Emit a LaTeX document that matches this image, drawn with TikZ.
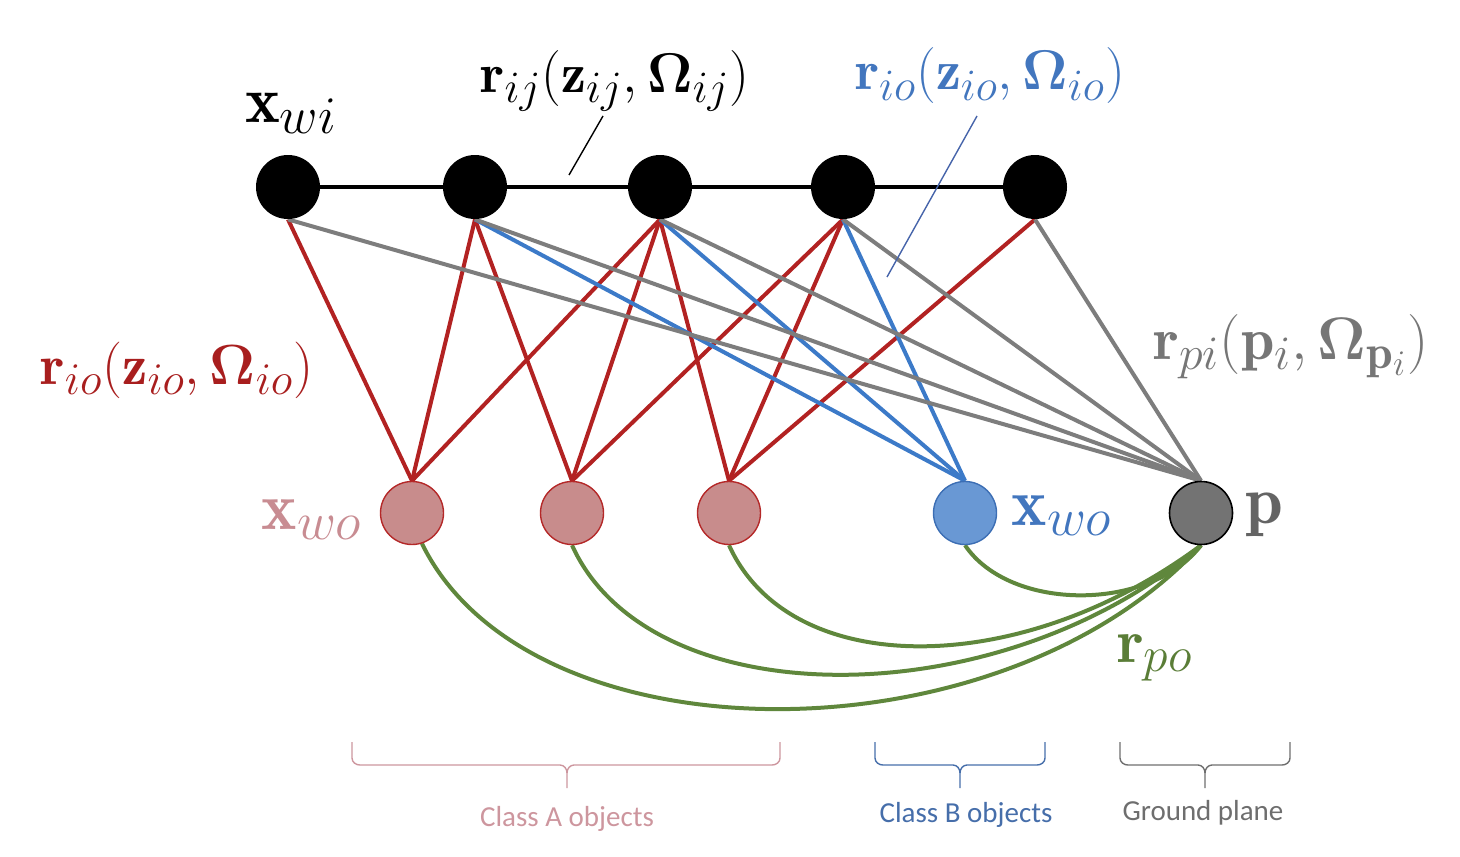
\RequirePackage{fix-cm}
\documentclass[tikz,border=0pt]{standalone}
\usepackage{amsmath,bm}
\usepackage{fontspec}
\newfontfamily\carlito{Carlito}
\renewcommand{\defaultscriptratio}{.8}
\renewcommand{\defaultscriptscriptratio}{.6}
\usetikzlibrary{backgrounds}
\definecolor{redline}{RGB}{178,34,34}
\definecolor{redlabel}{RGB}{168,30,30}
\definecolor{pinkfill}{RGB}{200,140,140}
\definecolor{pinkborder}{RGB}{180,40,40}
\definecolor{pinktext}{RGB}{200,140,146}
\definecolor{blueline}{RGB}{60,122,200}
\definecolor{bluefill}{RGB}{105,152,212}
\definecolor{blueborder}{RGB}{60,110,180}
\definecolor{bluetext}{RGB}{66,118,190}
\definecolor{bluepointer}{RGB}{70,100,170}
\definecolor{grayline}{RGB}{125,125,125}
\definecolor{pfill}{RGB}{115,115,115}
\definecolor{ptext}{RGB}{100,100,100}
\definecolor{graylabel}{RGB}{118,118,118}
\definecolor{greenline}{RGB}{95,135,60}
\definecolor{greenlabel}{RGB}{90,125,55}
\definecolor{braceA}{RGB}{205,150,158}
\definecolor{braceB}{RGB}{70,110,170}
\definecolor{braceG}{RGB}{110,110,110}
\newcommand{\mybrace}[4]{%
  \draw[#4, line width=0.7pt] (#1,742) -- (#1,758) to[out=90+180,in=180] (#1+8,765) -- (#3-7,765)
    to[out=0,in=90] (#3,773) -- (#3,788);
  \draw[#4, line width=0.7pt] (#3,773) to[out=90,in=180] (#3+7,765) -- (#2-8,765)
    to[out=0,in=-90] (#2,758) -- (#2,742);}
\newcommand{\fs}[1]{\fontsize{#1}{#1}\selectfont}
\begin{document}
\begin{tikzpicture}[x=0.5pt,y=-0.5pt,
  topnode/.style={circle, fill=black, inner sep=0pt, minimum size=32pt},
  objA/.style={circle, fill=pinkfill, draw=pinkborder, line width=0.7pt, inner sep=0pt, minimum size=31.5pt},
  objB/.style={circle, fill=bluefill, draw=blueborder, line width=0.7pt, inner sep=0pt, minimum size=31.5pt},
  pnode/.style={circle, fill=pfill, draw=black, line width=0.8pt, inner sep=0pt, minimum size=31.5pt},
  lbl/.style={inner sep=0pt, anchor=base},
  cls/.style={inner sep=0pt, anchor=base, font=\carlito\fontsize{14.5}{17}\selectfont},
  blackedge/.style={draw=black, line width=2pt},
  redge/.style={draw=redline, line width=2pt},
  bedge/.style={draw=blueline, line width=2pt},
  gedge/.style={draw=grayline, line width=2pt},
  gredge/.style={draw=greenline, line width=2pt},
  pointer/.style={line width=0.7pt}
]
\useasboundingbox (0,0) rectangle (1460,856);

% top nodes
\node[topnode] (t1) at (288,187) {};
\node[topnode] (t2) at (475,187) {};
\node[topnode] (t3) at (660,187) {};
\node[topnode] (t4) at (843,187) {};
\node[topnode] (t5) at (1035,187) {};

% bottom nodes
\node[objA] (b1) at (412,513) {};
\node[objA] (b2) at (572,513) {};
\node[objA] (b3) at (729,513) {};
\node[objB] (b4) at (965,513) {};
\node[pnode] (p) at (1201,513) {};

\begin{pgfonlayer}{background}
  \draw[blackedge] (t1) -- (t2) -- (t3) -- (t4) -- (t5);
  % red edges
  \draw[redge] (t1.south) -- (b1.north);
  \draw[redge] (t2.south) -- (b1.north);
  \draw[redge] (t2.south) -- (b2.north);
  \draw[redge] (t3.south) -- (b1.north);
  \draw[redge] (t3.south) -- (b2.north);
  \draw[redge] (t3.south) -- (b3.north);
  \draw[redge] (t4.south) -- (b2.north);
  \draw[redge] (t4.south) -- (b3.north);
  \draw[redge] (t5.south) -- (b3.north);
  % blue edges
  \draw[bedge] (t2.south) -- (b4.north);
  \draw[bedge] (t3.south) -- (b4.north);
  \draw[bedge] (t4.south) -- (b4.north);
  % gray edges
  \draw[gedge] (t1.south) -- (p.north);
  \draw[gedge] (t2.south) -- (p.north);
  \draw[gedge] (t3.south) -- (p.north);
  \draw[gedge] (t4.south) -- (p.north);
  \draw[gedge] (t5.south) -- (p.north);
  % green curves
  \draw[gredge] (b1.-72) .. controls (530,764) and (1000,764) .. (p.south);
  \draw[gredge] (b2.south) .. controls (650,718) and (1000,718) .. (p.south);
  \draw[gredge] (b3.south) .. controls (790,680) and (1020,680) .. (p.south);
  \draw[gredge] (b4.south) .. controls (1010,612) and (1150,612) .. (p.south);
\end{pgfonlayer}

% pointers
\coordinate (pij1) at (603,116);
\coordinate (pij2) at (569,175);
\draw[pointer, black] (pij1) -- (pij2);
\coordinate (pio1) at (977,116);
\coordinate (pio2) at (887,277);
\draw[pointer, bluepointer] (pio1) -- (pio2);

% labels
\node[lbl, text=black, font=\fs{33}] (lxwi) at (291,122) {$\mathbf{x}_{wi}$};
\node[lbl, text=black, font=\fs{28}] (lrij) at (615,92) {$\mathbf{r}_{ij}(\mathbf{z}_{ij},\bm{\Omega}_{ij})$};
\node[lbl, text=bluetext, font=\fs{28}] (lrioB) at (990,90) {$\mathbf{r}_{io}(\mathbf{z}_{io},\bm{\Omega}_{io})$};
\node[lbl, text=redlabel, font=\fs{28.3}] (lrioA) at (177,384) {$\mathbf{r}_{io}(\mathbf{z}_{io},\bm{\Omega}_{io})$};
\node[lbl, text=graylabel, font=\fs{30}] (lrpi) at (1291,359) {$\mathbf{r}_{pi}(\mathbf{p}_{i},\bm{\Omega}_{\mathbf{p}_i})$};
\node[lbl, text=pinktext, font=\fs{33.5}] (lxwoA) at (312,529) {$\mathbf{x}_{wo}$};
\node[lbl, text=bluetext, font=\fs{33.5}] (lxwoB) at (1062,525) {$\mathbf{x}_{wo}$};
\node[lbl, text=ptext, font=\fs{34}] (lp) at (1264,523) {$\mathbf{p}$};
\node[lbl, text=greenlabel, font=\fs{31}] (lrpo) at (1155,662) {$\mathbf{r}_{po}$};

% braces
\mybrace{352}{780}{567}{braceA}
\mybrace{875}{1045}{960}{braceB}
\mybrace{1120}{1290}{1205}{braceG}

\node[cls, text=braceA] (cA) at (567,826) {Class A objects};
\node[cls, text=braceB] (cB) at (966,822) {Class B objects};
\node[cls, text=braceG] (cG) at (1203,820) {Ground plane};
\end{tikzpicture}
\end{document}
